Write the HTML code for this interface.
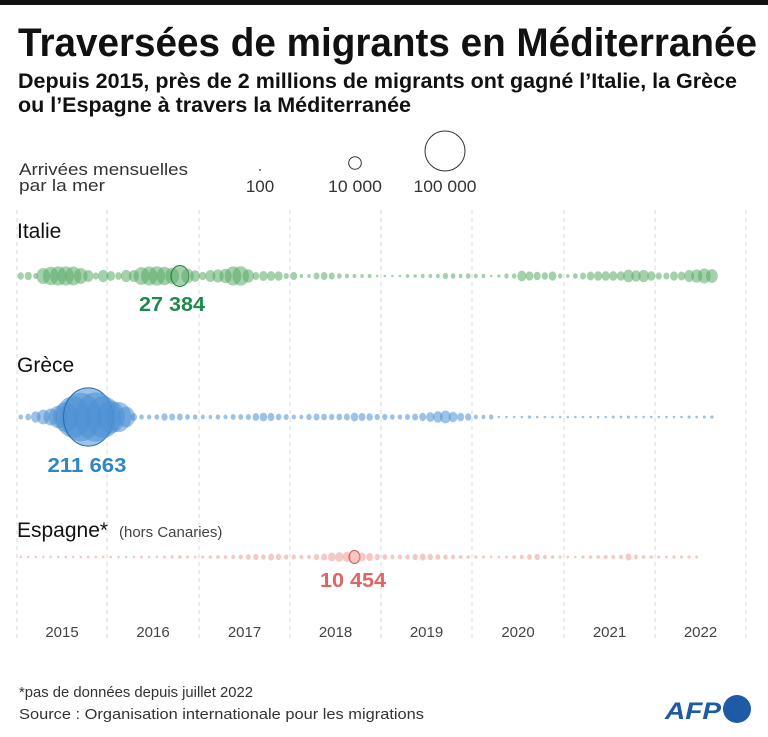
<!DOCTYPE html>
<html><head><meta charset="utf-8"><style>
html,body{margin:0;padding:0;background:#fff;}
svg{display:block;font-family:"Liberation Sans",sans-serif;}
</style></head><body>
<svg id="s" width="768" height="737" viewBox="0 0 768 737" xmlns="http://www.w3.org/2000/svg">
<rect x="0" y="0" width="768" height="5" fill="#111"/>
<text x="18" y="56" font-size="40" font-weight="bold" textLength="739" lengthAdjust="spacingAndGlyphs" fill="#111">Traversées de migrants en Méditerranée</text>
<text x="18" y="88" font-size="21" font-weight="bold" textLength="719" lengthAdjust="spacingAndGlyphs" fill="#111">Depuis 2015, près de 2 millions de migrants ont gagné l’Italie, la Grèce</text>
<text x="18" y="112" font-size="21" font-weight="bold" textLength="393" lengthAdjust="spacingAndGlyphs" fill="#111">ou l’Espagne à travers la Méditerranée</text>
<g font-size="17" fill="#333">
<text x="19" y="175" textLength="169" lengthAdjust="spacingAndGlyphs">Arrivées mensuelles</text>
<text x="19" y="191" textLength="86" lengthAdjust="spacingAndGlyphs">par la mer</text>
<text x="260" y="192" text-anchor="middle">100</text>
<text x="355" y="192" text-anchor="middle" textLength="54" lengthAdjust="spacingAndGlyphs">10 000</text>
<text x="445" y="192" text-anchor="middle" textLength="63" lengthAdjust="spacingAndGlyphs">100 000</text>
</g>
<circle cx="260" cy="170" r="0.9" fill="#333"/>
<circle cx="355" cy="163" r="6.3" fill="none" stroke="#333" stroke-width="1"/>
<circle cx="445" cy="151" r="20" fill="none" stroke="#333" stroke-width="1"/>
<g id="grid" stroke="#d8d8d8" stroke-width="1" stroke-dasharray="4,4"></g>
<text x="17" y="238" font-size="21" fill="#111">Italie</text>
<text x="17" y="372" font-size="21" fill="#111">Grèce</text>
<text x="17" y="537" font-size="21" fill="#111">Espagne*</text>
<text x="119" y="537" font-size="15" fill="#444">(hors Canaries)</text>
<g id="dots"></g>
<text x="172" y="311" font-size="20" font-weight="bold" fill="#1f8a4c" text-anchor="middle" textLength="66" lengthAdjust="spacingAndGlyphs">27 384</text>
<text x="87" y="472" font-size="20" font-weight="bold" fill="#2f86c4" text-anchor="middle" textLength="79" lengthAdjust="spacingAndGlyphs">211 663</text>
<text x="353" y="587" font-size="20" font-weight="bold" fill="#e06464" text-anchor="middle" textLength="66" lengthAdjust="spacingAndGlyphs">10 454</text>
<g id="years" font-size="15" fill="#444" text-anchor="middle"></g>
<text x="19" y="697" font-size="15" fill="#333" textLength="234" lengthAdjust="spacingAndGlyphs">*pas de données depuis juillet 2022</text>
<text x="19" y="719" font-size="15" fill="#333" textLength="405" lengthAdjust="spacingAndGlyphs">Source : Organisation internationale pour les migrations</text>
<text x="665" y="719" font-size="24" font-weight="bold" font-style="italic" fill="#1f5aa6" textLength="56" lengthAdjust="spacingAndGlyphs">AFP</text>
<circle cx="737" cy="709" r="14" fill="#1f5aa6"/>
</svg>
<script>
var NS="http://www.w3.org/2000/svg";
var grid=document.getElementById('grid'),years=document.getElementById('years'),dots=document.getElementById('dots');
var gx=[17,107,199,290,381,472,564,655,746];
gx.forEach(function(x){var l=document.createElementNS(NS,'line');l.setAttribute('x1',x);l.setAttribute('x2',x);l.setAttribute('y1',210);l.setAttribute('y2',640);grid.appendChild(l);});
for(var i=0;i<8;i++){var t=document.createElementNS(NS,'text');t.setAttribute('x',(gx[i]+gx[i+1])/2);t.setAttribute('y',637);t.textContent=2015+i;years.appendChild(t);}
function mx(i){var y=Math.floor(i/12),m=i%12;return gx[y]+(gx[y+1]-gx[y])*(m+0.5)/12;}
function rad(v){return Math.max(1.3,20*Math.sqrt(v/100000));}
var it=[3528,4354,2283,16063,21231,22877,23210,22610,15922,8916,3218,9570,
6218,3828,9676,9149,19957,22371,23552,21294,16975,27384,13581,8428,
4467,8971,10853,12943,22993,23526,11461,3914,6288,5984,5645,2327,
4182,1065,1049,3171,3963,3147,1969,1531,947,1007,980,359,
202,60,262,1016,782,1218,1088,1268,2498,2016,1232,1900,
1342,1211,241,671,1654,1831,7067,5326,4387,3477,5360,1661,
1039,2068,3120,4976,5644,5900,5898,5726,9999,8100,9478,5900,
3195,3161,5350,5000,9000,11000,14000,12000];
var gr=[1694,2873,7874,13556,17889,31318,54899,107843,147123,211663,151249,108742,
67415,57066,26971,3650,1721,1554,1920,3447,3080,2970,1991,1784,
1393,1089,1690,1470,2138,2005,2304,3776,4884,4134,2704,2241,
1633,1256,2430,3029,2900,2400,2900,3100,4900,4100,3500,2500,
2400,1900,1800,2200,3100,4200,6000,8100,10200,7000,4600,3400,
1400,1300,1700,40,170,60,300,700,300,200,300,200,
100,200,200,300,200,300,600,500,600,400,300,200,
100,100,300,400,600,500,600,700];
var sp=[150,200,300,250,300,250,300,400,350,500,400,450,
350,300,400,350,500,400,500,600,700,800,600,500,
600,700,900,800,1200,1500,2000,2400,1800,3000,2500,1700,
1500,1200,1300,2500,3200,5000,6000,6500,10454,5000,4000,2500,
2000,1500,1600,1800,2500,3000,2500,2000,1800,1600,900,800,
700,600,400,300,600,900,1200,2000,2500,1300,800,600,
500,400,700,800,900,1000,1100,1300,3000,1200,900,800,
600,500,700,600,700,600];
function row(arr,cy,col,hi,hc){arr.forEach(function(v,i){var r=rad(v);var c=document.createElementNS(NS,'ellipse');c.setAttribute('cx',mx(i));c.setAttribute('cy',cy);c.setAttribute('ry',r);c.setAttribute('rx',r>2?r*0.85:r);c.setAttribute('fill',col);c.setAttribute('fill-opacity',0.55);if(i==hi){c.setAttribute('stroke',hc);c.setAttribute('stroke-width',1);}dots.appendChild(c);});}
row(it,276,'#5aaa68',21,'#1f7a40');
row(gr,417,'#4a8fd4',9,'#2a6aa8');
row(sp,557,'#ee9a92',44,'#d05050');
</script>
</body></html>
